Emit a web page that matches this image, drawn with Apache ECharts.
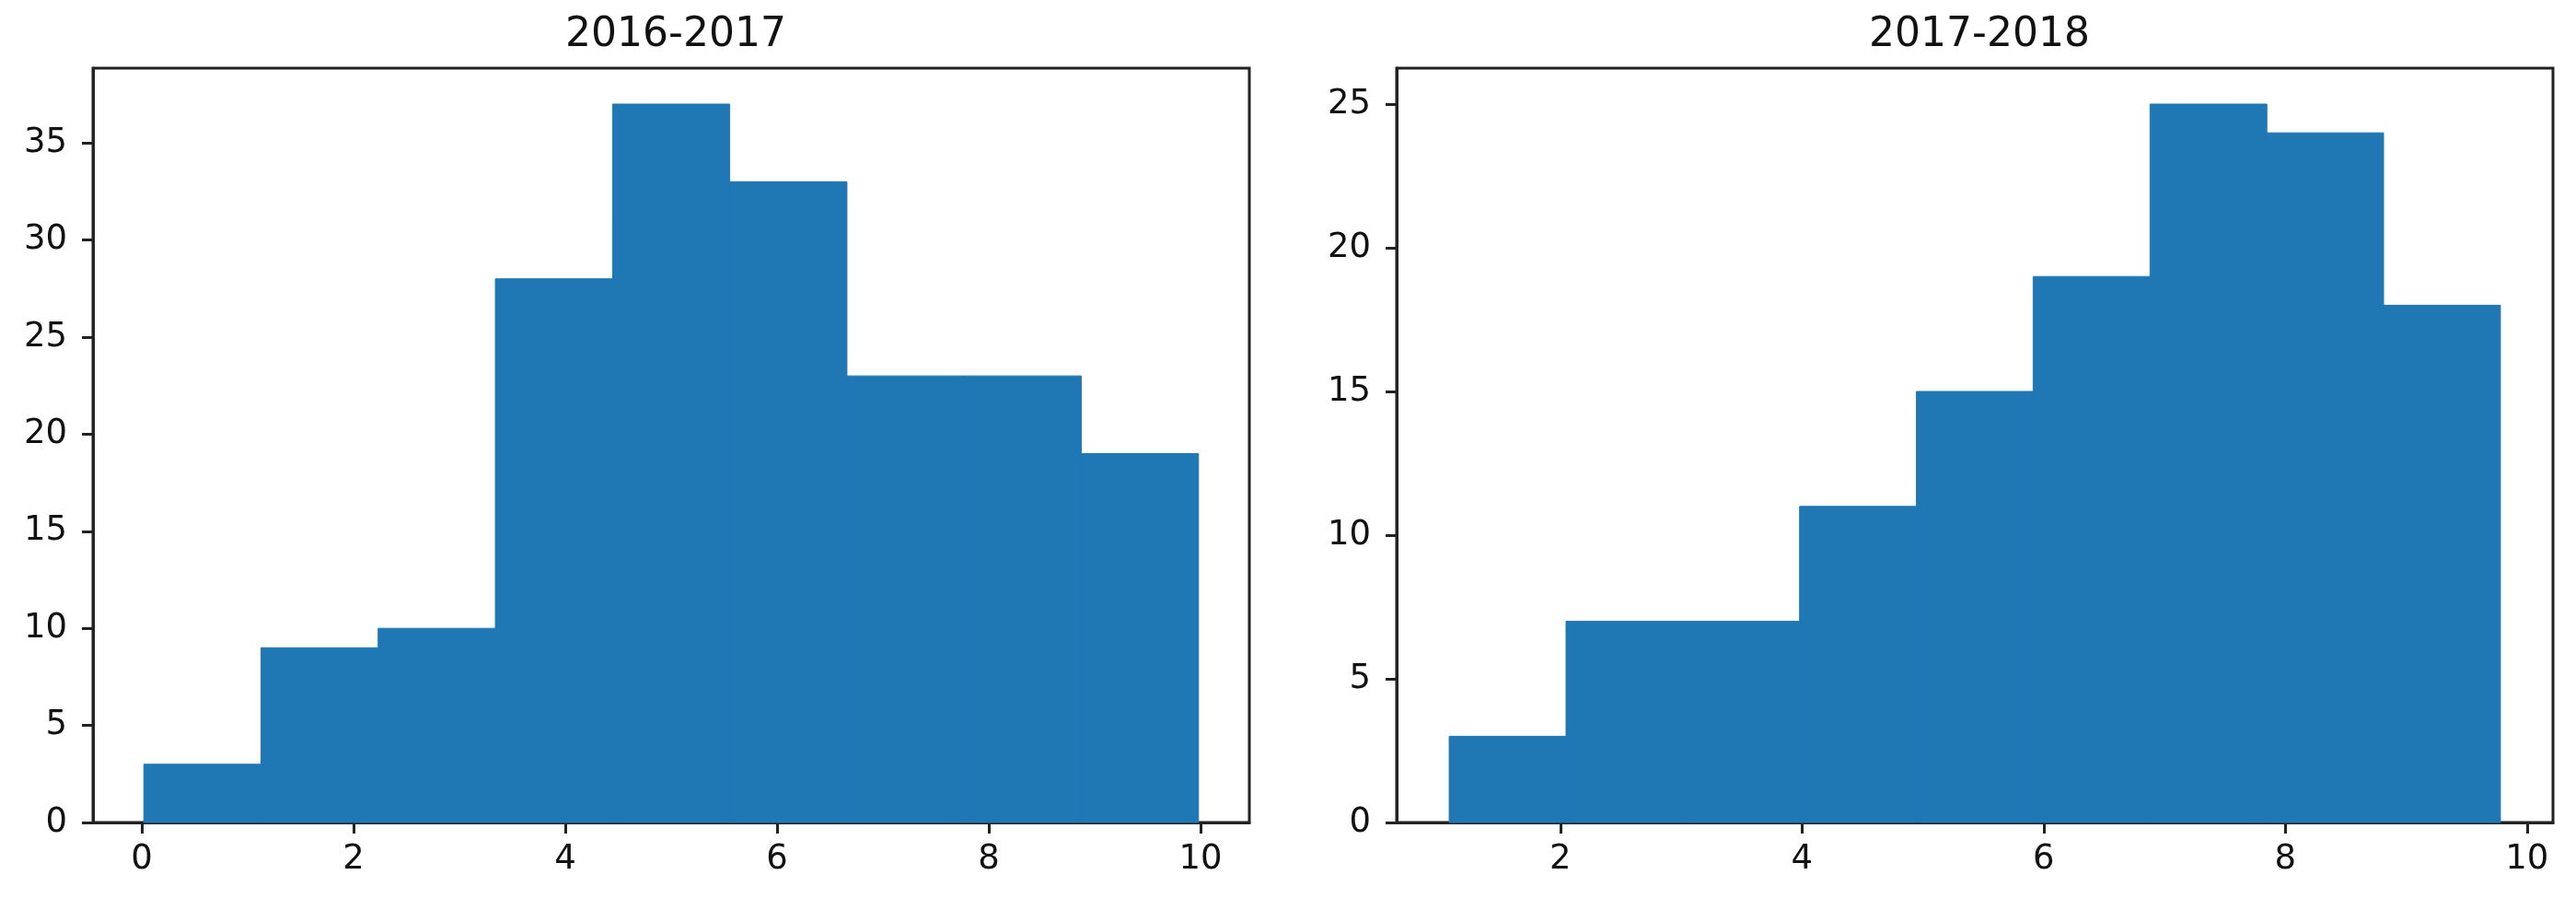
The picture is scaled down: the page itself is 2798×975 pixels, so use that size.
<!DOCTYPE html>
<html>

<head>
    <meta charset="utf-8">
    <script src="https://cdn.jsdelivr.net/npm/echarts@6/dist/echarts.min.js"></script>
    <style>
        html, body { margin: 0; padding: 0; background: #fff; }
    </style>
</head>

<body>
    <div id="main" style="width: 2798px;height:975px;"></div>
    <script type="text/javascript">
        // 直方图数据：每个区间的边界和计数
        var titles = ['2016-2017', '2017-2018'];
        var edges2016 = [0.02, 1.127, 2.233, 3.34, 4.447, 5.553, 6.66, 7.767, 8.873, 9.98];
        var counts2016 = [3, 9, 10, 28, 37, 33, 23, 23, 19];
        var edges2017 = [1.08, 2.047, 3.013, 3.98, 4.947, 5.913, 6.88, 7.847, 8.813, 9.78];
        var counts2017 = [3, 7, 7, 11, 15, 19, 25, 24, 18];
        var xTicks2016 = [0, 2, 4, 6, 8, 10];
        var xTicks2017 = [2, 4, 6, 8, 10];
        var yTicks2016 = [0, 5, 10, 15, 20, 25, 30, 35];
        var yTicks2017 = [0, 5, 10, 15, 20, 25];

        var barColor = '#1f77b4';
        var lineColor = '#222';
        var font = 'DejaVu Sans';

        function toBins(edges, counts) {
            var out = [];
            for (var i = 0; i < counts.length; i++) {
                out.push([edges[i], edges[i + 1], counts[i]]);
            }
            return out;
        }

        function renderHist(params, api) {
            var p0 = api.coord([api.value(0), api.value(2)]);
            var p1 = api.coord([api.value(1), 0]);
            return {
                type: 'rect',
                shape: { x: p0[0], y: p0[1], width: p1[0] - p0[0], height: p1[1] - p0[1] },
                // 细描边，去掉相邻柱之间的缝
                style: { fill: barColor, stroke: barColor, lineWidth: 1 }
            };
        }

        function xAxis(idx, min, max, ticks) {
            return {
                type: 'value', gridIndex: idx, min: min, max: max,
                splitLine: { show: false },
                axisLine: { show: true, onZero: false, lineStyle: { color: lineColor, width: 3 } },
                axisTick: { show: true, length: 12, customValues: ticks, lineStyle: { color: lineColor, width: 3 } },
                axisLabel: { customValues: ticks, margin: 22, fontSize: 37, fontFamily: font, color: '#111' }
            };
        }

        function yAxis(idx, max, ticks) {
            return {
                type: 'value', gridIndex: idx, min: 0, max: max,
                splitLine: { show: false },
                axisLine: { show: true, onZero: false, lineStyle: { color: lineColor, width: 3 } },
                axisTick: { show: true, length: 12, customValues: ticks, lineStyle: { color: lineColor, width: 3 } },
                axisLabel: { customValues: ticks, margin: 28, fontSize: 37, fontFamily: font, color: '#111' }
            };
        }

        var myChart = echarts.init(document.getElementById('main'));
        var option = {
            animation: false,
            backgroundColor: '#fff',
            title: [
                { text: titles[0], left: 729, top: 12, textAlign: 'center',
                  textStyle: { fontSize: 44, fontWeight: 'normal', fontFamily: font, color: '#111' } },
                { text: titles[1], left: 2145, top: 12, textAlign: 'center',
                  textStyle: { fontSize: 44, fontWeight: 'normal', fontFamily: font, color: '#111' } }
            ],
            grid: [
                { left: 101, top: 74, width: 1256, height: 819, show: true, borderColor: lineColor, borderWidth: 3 },
                { left: 1517, top: 74, width: 1256, height: 819, show: true, borderColor: lineColor, borderWidth: 3 }
            ],
            xAxis: [
                xAxis(0, -0.46, 10.46, xTicks2016),
                xAxis(1, 0.645, 10.215, xTicks2017)
            ],
            yAxis: [
                yAxis(0, 38.85, yTicks2016),
                yAxis(1, 26.25, yTicks2017)
            ],
            series: [
                { type: 'custom', xAxisIndex: 0, yAxisIndex: 0, renderItem: renderHist,
                  encode: { x: [0, 1], y: 2 }, data: toBins(edges2016, counts2016) },
                { type: 'custom', xAxisIndex: 1, yAxisIndex: 1, renderItem: renderHist,
                  encode: { x: [0, 1], y: 2 }, data: toBins(edges2017, counts2017) }
            ]
        };
        myChart.setOption(option);
    </script>
</body>

</html>
